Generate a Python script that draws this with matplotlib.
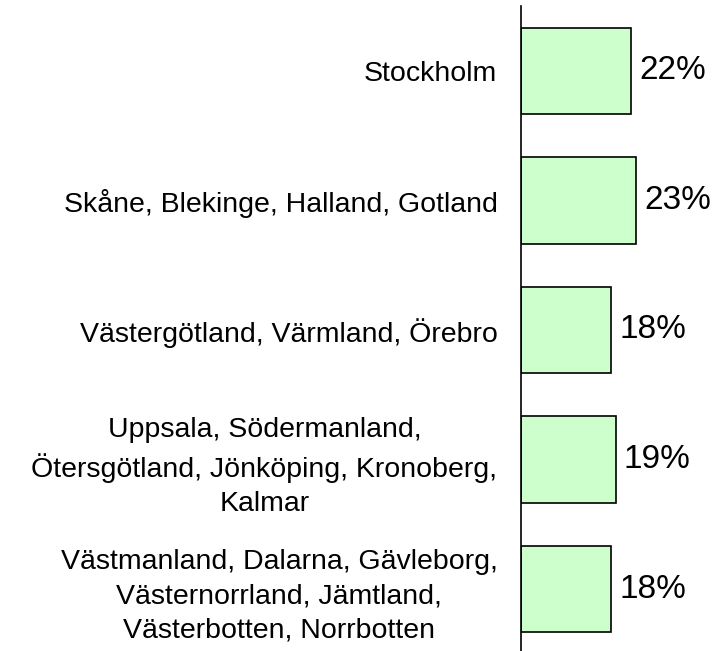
import numpy as np
import matplotlib.pyplot as plt

plt.rcParams['font.family'] = ['Liberation Sans', 'DejaVu Sans']

regions = ['Stockholm',
           'Skåne, Blekinge, Halland, Gotland',
           'Västergötland, Värmland, Örebro',
           'Uppsala, Södermanland,\nÖtersgötland, Jönköping, Kronoberg,\nKalmar',
           'Västmanland, Dalarna, Gävleborg,\nVästernorrland, Jämtland,\nVästerbotten, Norrbotten']
shares = [22, 23, 18, 19, 18]

fig = plt.figure(figsize=(7.16, 6.51), dpi=100)
ax = fig.add_axes([521/716, -3/651, 195/716, 648/651])

y = np.arange(len(regions))
ax.barh(y, shares, height=0.667, color='#ccffcc', edgecolor='black', linewidth=1.2)
for yi, v in zip(y, shares):
    ax.text(v + 1.6, yi, f'{v}%', va='center', ha='left', fontsize=24)

ax.set_ylim(len(regions) - 0.5, -0.5)
ax.set_xlim(0, 39)
ax.set_yticks(y)
ax.set_yticklabels(regions, fontsize=20.5, multialignment='center', linespacing=1.42)
ax.tick_params(axis='y', length=0, pad=17)
ax.set_xticks([])
for s in ['top', 'right', 'bottom']:
    ax.spines[s].set_visible(False)
ax.spines['left'].set_linewidth(1.2)

fig.savefig('out.png', dpi=100)
